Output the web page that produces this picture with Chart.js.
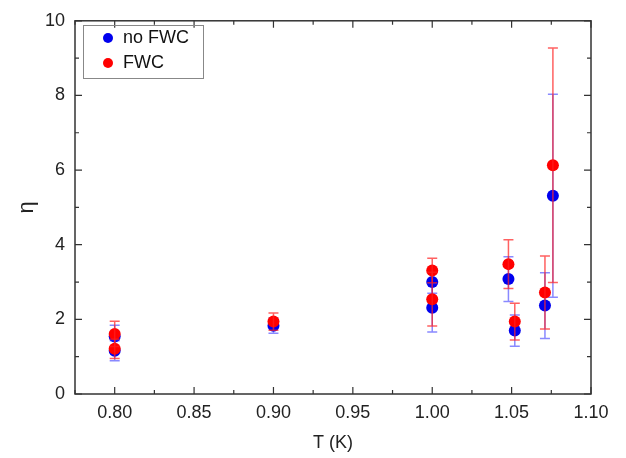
<!DOCTYPE html>
<html>
<head>
<meta charset="utf-8">
<script src="https://cdn.jsdelivr.net/npm/chart.js@4.4.1/dist/chart.umd.min.js"></script>
<style>
  html, body { margin: 0; padding: 0; background: #fff; }
  #wrap { width: 626px; height: 458px; }
</style>
</head>
<body>
<div id="wrap"><canvas id="myChart" width="626" height="458"></canvas></div>
<script>
// temperatures (K), shared by both series
const temps = [0.80, 0.80, 0.90, 1.00, 1.00, 1.048, 1.052, 1.071, 1.076];
// eta without FWC and its error
const etaNoFwc = [1.54, 1.16, 1.83, 3.00, 2.31, 3.08, 1.70, 2.37, 5.31];
const errNoFwc = [0.30, 0.27, 0.20, 0.30, 0.65, 0.60, 0.42, 0.88, 2.72];
// eta with FWC and its error
const etaFwc = [1.61, 1.21, 1.94, 3.31, 2.54, 3.48, 1.94, 2.72, 6.13];
const errFwc = [0.34, 0.26, 0.23, 0.33, 0.72, 0.65, 0.49, 0.98, 3.14];

const seriesNames = ['no FWC', 'FWC'];
const fontFam = '"Liberation Sans", Arial, sans-serif';

function puntos(ys, errs) {
    let arr = [];
    for (let i = 0; i < temps.length; i++) {
        arr.push({ x: temps[i], y: ys[i], err: errs[i] });
    }
    return arr;
}

// error bars, drawn right after each dataset so red sits on top of blue
const errorBars = {
    id: 'errorBars',
    afterDatasetDraw(chart, args) {
        const ds = chart.data.datasets[args.index];
        const xs = chart.scales.x, ys = chart.scales.y;
        const ctx = chart.ctx;
        ctx.save();
        ctx.strokeStyle = ds.barColor;
        ctx.lineWidth = 1.5;
        for (let p of ds.data) {
            const px = xs.getPixelForValue(p.x);
            const top = ys.getPixelForValue(p.y + p.err);
            const bot = ys.getPixelForValue(p.y - p.err);
            ctx.beginPath();
            ctx.moveTo(px, top); ctx.lineTo(px, bot);
            ctx.moveTo(px - 5, top); ctx.lineTo(px + 5, top);
            ctx.moveTo(px - 5, bot); ctx.lineTo(px + 5, bot);
            ctx.stroke();
        }
        ctx.restore();
    }
};

// frame with inward major/minor ticks on all four sides
const frameTicks = {
    id: 'frameTicks',
    afterDraw(chart) {
        const { ctx, chartArea: a } = chart;
        const xs = chart.scales.x, ys = chart.scales.y;
        ctx.save();
        ctx.strokeStyle = '#333';
        ctx.lineWidth = 1.5;
        ctx.strokeRect(a.left, a.top, a.right - a.left, a.bottom - a.top);
        ctx.lineWidth = 1.2;
        ctx.beginPath();
        for (let t of xs.ticks) {
            const px = xs.getPixelForValue(t.value);
            const len = isMajorX(t.value) ? 7 : 4;
            ctx.moveTo(px, a.bottom); ctx.lineTo(px, a.bottom - len);
            ctx.moveTo(px, a.top); ctx.lineTo(px, a.top + len);
        }
        for (let t of ys.ticks) {
            const py = ys.getPixelForValue(t.value);
            const len = Math.round(t.value) % 2 === 0 ? 7 : 4;
            ctx.moveTo(a.left, py); ctx.lineTo(a.left + len, py);
            ctx.moveTo(a.right, py); ctx.lineTo(a.right - len, py);
        }
        ctx.stroke();
        ctx.restore();
    }
};

// boxed legend in the top-left corner
const legendBox = {
    id: 'legendBox',
    afterDraw(chart) {
        const ctx = chart.ctx;
        ctx.save();
        ctx.strokeStyle = '#888';
        ctx.lineWidth = 1;
        ctx.strokeRect(83.5, 25.5, 120, 53);
        ctx.font = '18px ' + fontFam;
        ctx.textBaseline = 'middle';
        chart.data.datasets.forEach((ds, i) => {
            const y = 38 + i * 25;
            ctx.fillStyle = ds.backgroundColor;
            ctx.beginPath();
            ctx.arc(108, y, 5, 0, Math.PI * 2);
            ctx.fill();
            ctx.fillStyle = '#111';
            ctx.fillText(ds.label, 123, y);
        });
        ctx.restore();
    }
};

function isMajorX(v) {
    return Math.round(v * 1000) % 50 === 0;
}

const ctx = document.getElementById('myChart');
const myChart = new Chart(ctx, {
    type: 'scatter',
    data: {
        datasets: [{
            label: seriesNames[0],
            data: puntos(etaNoFwc, errNoFwc),
            order: 2,
            backgroundColor: '#0000ee',
            borderColor: '#0000ee',
            barColor: 'rgba(40, 40, 255, 0.55)',
            pointRadius: 6,
            pointBorderWidth: 0
        }, {
            label: seriesNames[1],
            data: puntos(etaFwc, errFwc),
            order: 1,
            backgroundColor: '#ff0000',
            borderColor: '#ff0000',
            barColor: 'rgba(255, 30, 30, 0.7)',
            pointRadius: 6,
            pointBorderWidth: 0
        }]
    },
    options: {
        responsive: false,
        animation: false,
        layout: { padding: { top: 15, right: 35, left: 0, bottom: 0 } },
        plugins: {
            legend: { display: false },
            tooltip: { enabled: false }
        },
        scales: {
            x: {
                type: 'linear',
                min: 0.775,
                max: 1.10,
                afterFit(s) { s.height = 64; },
                grid: { display: false, drawTicks: false },
                border: { display: false },
                ticks: {
                    stepSize: 0.025,
                    autoSkip: false,
                    maxRotation: 0,
                    padding: 8,
                    color: '#222',
                    font: { family: fontFam, size: 18 },
                    callback: v => isMajorX(v) ? v.toFixed(2) : ''
                },
                title: {
                    display: true,
                    text: 'T (K)',
                    color: '#222',
                    font: { family: fontFam, size: 18 },
                    padding: { top: 0, bottom: 4 }
                }
            },
            y: {
                min: 0,
                max: 10,
                afterFit(s) { s.width = 75; },
                grid: { display: false, drawTicks: false },
                border: { display: false },
                ticks: {
                    stepSize: 1,
                    autoSkip: false,
                    padding: 10,
                    color: '#222',
                    font: { family: fontFam, size: 18 },
                    callback: v => Math.round(v) % 2 === 0 ? String(v) : ''
                },
                title: {
                    display: true,
                    text: 'η',
                    color: '#222',
                    font: { family: fontFam, size: 22 },
                    padding: { top: 14, bottom: 0 }
                }
            }
        }
    },
    plugins: [errorBars, frameTicks, legendBox]
});
</script>
</body>
</html>
